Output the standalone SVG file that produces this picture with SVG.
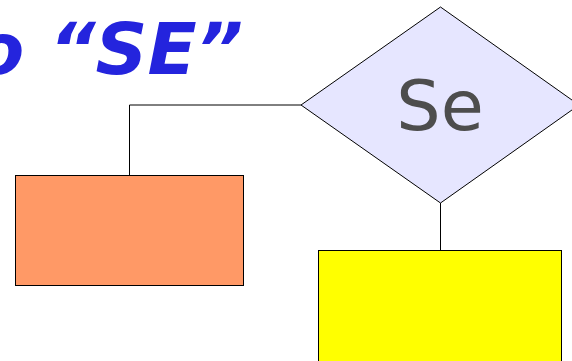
<svg xmlns="http://www.w3.org/2000/svg" width="572" height="361" viewBox="0 0 572 361">
<style>
.title{font-family:"DejaVu Sans",sans-serif;font-weight:bold;font-style:italic;font-size:72px;fill:#2424DD}
.lbl{font-family:"DejaVu Sans",sans-serif;font-size:70px;fill:#4D4D4D}
.edge{fill:none;stroke:#000;stroke-width:1}
.box{stroke:#000;stroke-width:1}
</style>
<rect width="572" height="361" fill="#fff"/>
<text class="title" x="243" y="74" text-anchor="end">o “SE”</text>
<g id="connectors">
<polyline class="edge" points="301,105 129.5,105 129.5,175"/>
<line class="edge" x1="440.5" y1="203" x2="440.5" y2="250"/>
</g>
<g id="decision">
<polygon class="box" points="440.5,7 579,105 440.5,203 301,105" fill="#E6E6FF"/>
<text class="lbl" x="440" y="130" text-anchor="middle">Se</text>
</g>
<g id="orangeBox">
<rect class="box" x="15.5" y="175.5" width="228" height="110" fill="#FF9966"/>
</g>
<g id="yellowBox">
<rect class="box" x="318.5" y="250.5" width="243" height="115" fill="#FFFF00"/>
</g>
</svg>
